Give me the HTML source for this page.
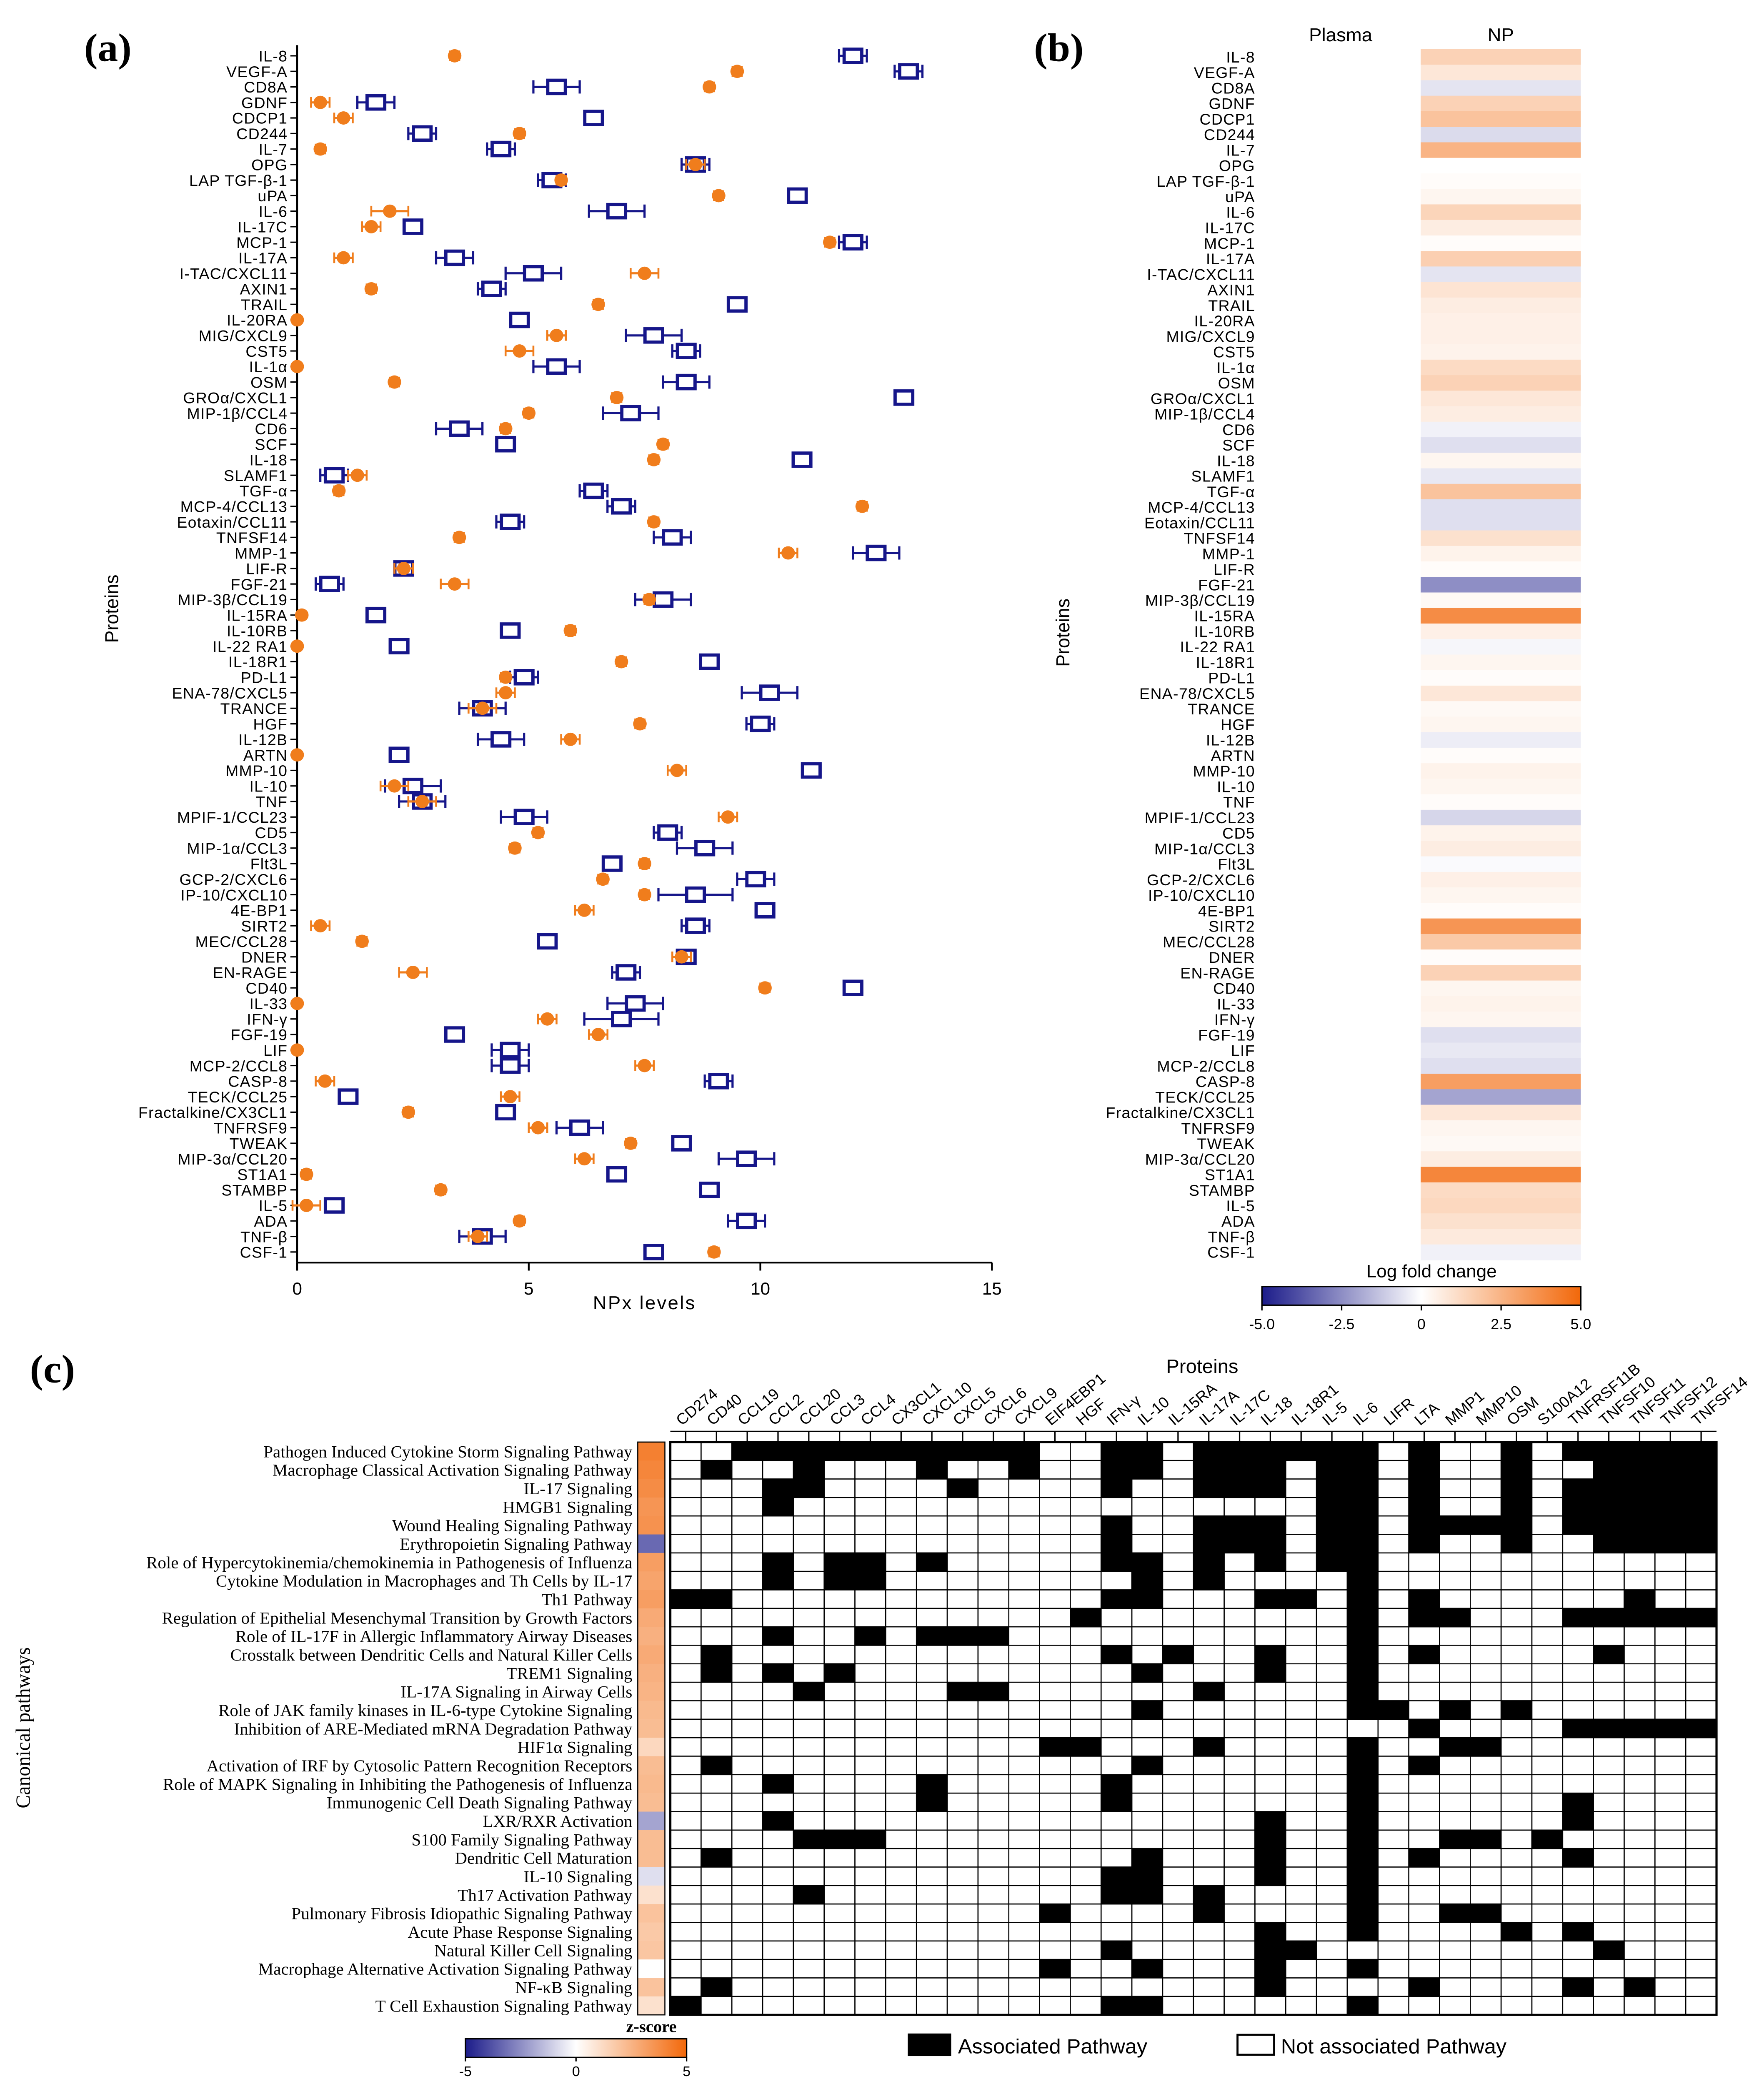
<!DOCTYPE html>
<html><head><meta charset="utf-8">
<style>
html,body{margin:0;padding:0;background:#fff;overflow:hidden;width:100%;height:100%;}
svg{display:block;position:absolute;left:0;top:0;width:100vw;height:100vh;}
text{font-family:"Liberation Sans",sans-serif;}
.serif{font-family:"Liberation Serif",serif;}
</style></head>
<body>
<svg id="fig" xmlns="http://www.w3.org/2000/svg" viewBox="0 0 1300 1568" preserveAspectRatio="none">
<rect x="0" y="0" width="1300" height="1568" fill="#fff"/>
<text class="serif" x="62" y="46" font-size="30" font-weight="bold">(a)</text>
<text class="serif" x="762" y="46" font-size="30" font-weight="bold">(b)</text>
<text class="serif" x="22" y="1040" font-size="30" font-weight="bold">(c)</text>
<g id="pa"></g>
<g id="pb"></g>
<g id="pc"></g>
</svg>
<script>
const proteins=["IL-8","VEGF-A","CD8A","GDNF","CDCP1","CD244","IL-7","OPG","LAP TGF-β-1","uPA","IL-6","IL-17C","MCP-1","IL-17A","I-TAC/CXCL11","AXIN1","TRAIL","IL-20RA","MIG/CXCL9","CST5","IL-1α","OSM","GROα/CXCL1","MIP-1β/CCL4","CD6","SCF","IL-18","SLAMF1","TGF-α","MCP-4/CCL13","Eotaxin/CCL11","TNFSF14","MMP-1","LIF-R","FGF-21","MIP-3β/CCL19","IL-15RA","IL-10RB","IL-22 RA1","IL-18R1","PD-L1","ENA-78/CXCL5","TRANCE","HGF","IL-12B","ARTN","MMP-10","IL-10","TNF","MPIF-1/CCL23","CD5","MIP-1α/CCL3","Flt3L","GCP-2/CXCL6","IP-10/CXCL10","4E-BP1","SIRT2","MEC/CCL28","DNER","EN-RAGE","CD40","IL-33","IFN-γ","FGF-19","LIF","MCP-2/CCL8","CASP-8","TECK/CCL25","Fractalkine/CX3CL1","TNFRSF9","TWEAK","MIP-3α/CCL20","ST1A1","STAMBP","IL-5","ADA","TNF-β","CSF-1"];
const plasmaNPx=[3.4,9.5,8.9,0.5,1.0,4.8,0.5,8.6,5.7,9.1,2.0,1.6,11.5,1.0,7.5,1.6,6.5,0,5.6,4.8,0,2.1,6.9,5.0,4.5,7.9,7.7,1.3,0.9,12.2,7.7,3.5,10.6,2.3,3.4,7.6,0.1,5.9,0,7.0,4.5,4.5,4.0,7.4,5.9,0,8.2,2.1,2.7,9.3,5.2,4.7,7.5,6.6,7.5,6.2,0.5,1.4,8.3,2.5,10.1,0,5.4,6.5,0,7.5,0.6,4.6,2.4,5.2,7.2,6.2,0.2,3.1,0.2,4.8,3.9,9.0];
const npNPx=[12.0,13.2,5.6,1.7,6.4,2.7,4.4,8.6,5.5,10.8,6.9,2.5,12.0,3.4,5.1,4.2,9.5,4.8,7.7,8.4,5.6,8.4,13.1,7.2,3.5,4.5,10.9,0.8,6.4,7.0,4.6,8.1,12.5,2.3,0.7,7.9,1.7,4.6,2.2,8.9,4.9,10.2,4.0,10.0,4.4,2.2,11.1,2.5,2.7,4.9,8.0,8.8,6.8,9.9,8.6,10.1,8.6,5.4,8.4,7.1,12.0,7.3,7.0,3.4,4.6,4.6,9.1,1.1,4.5,6.1,8.3,9.7,6.9,8.9,0.8,9.7,4.0,7.7];
const npErr=[0.3,0.3,0.5,0.4,0.2,0.3,0.3,0.3,0.3,0.2,0.6,0.2,0.3,0.4,0.6,0.3,0.2,0.2,0.6,0.3,0.5,0.5,0.2,0.6,0.5,0.2,0.2,0.3,0.3,0.3,0.3,0.4,0.5,0.2,0.3,0.6,0.2,0.2,0.2,0.2,0.3,0.6,0.5,0.3,0.5,0.2,0.2,0.6,0.5,0.5,0.3,0.6,0.2,0.4,0.8,0.2,0.3,0.2,0.2,0.3,0.2,0.6,0.8,0.2,0.4,0.4,0.3,0.2,0.2,0.5,0.2,0.6,0.2,0.2,0.2,0.4,0.5,0.2];
const plasmaErr=[0.1,0.1,0.1,0.2,0.2,0.1,0.1,0.2,0.1,0.1,0.4,0.2,0.1,0.2,0.3,0.1,0.1,0,0.2,0.3,0,0.1,0.1,0.1,0.1,0.1,0.1,0.2,0.1,0.1,0.1,0.1,0.2,0.2,0.3,0.1,0,0.1,0,0.1,0.1,0.2,0.3,0.1,0.2,0,0.2,0.3,0.3,0.2,0.1,0.1,0.1,0.1,0.1,0.2,0.2,0.1,0.2,0.3,0.1,0,0.2,0.2,0,0.2,0.2,0.2,0.1,0.2,0.1,0.2,0.1,0.1,0.3,0.1,0.2,0.1];
const xTicks=[0,5,10,15];
const logFC=[1.5,0.8,-0.6,1.5,2.0,-0.8,2.5,0,0.1,0.3,1.4,0.6,0.1,1.6,-0.6,0.9,0.6,0.5,0.5,0.4,1.2,1.5,0.8,0.6,-0.3,-0.7,0.3,-0.5,2.0,-0.7,-0.7,1.0,0.4,0.1,-2.5,0.2,3.8,0.5,-0.2,0.3,0.1,0.8,0.2,0.3,-0.4,0.1,0.4,0.3,0.1,-0.9,0.4,0.6,-0.1,0.5,0.3,0.1,3.5,1.8,0.1,1.5,0.3,0.4,0.3,-0.7,-0.5,-0.7,3.2,-2.0,0.8,0.3,0.2,0.6,4.0,1.2,1.3,1.0,0.7,-0.3];
const fcTicks=["-5.0","-2.5","0","2.5","5.0"];
const pathways=["Pathogen Induced Cytokine Storm Signaling Pathway","Macrophage Classical Activation Signaling Pathway","IL-17 Signaling","HMGB1 Signaling","Wound Healing Signaling Pathway","Erythropoietin Signaling Pathway","Role of Hypercytokinemia/chemokinemia in Pathogenesis of Influenza","Cytokine Modulation in Macrophages and Th Cells by IL-17","Th1 Pathway","Regulation of Epithelial Mesenchymal Transition by Growth Factors","Role of IL-17F in Allergic Inflammatory Airway Diseases","Crosstalk between Dendritic Cells and Natural Killer Cells","TREM1 Signaling","IL-17A Signaling in Airway Cells","Role of JAK family kinases in IL-6-type Cytokine Signaling","Inhibition of ARE-Mediated mRNA Degradation Pathway","HIF1α Signaling","Activation of IRF by Cytosolic Pattern Recognition Receptors","Role of MAPK Signaling in Inhibiting the Pathogenesis of Influenza","Immunogenic Cell Death Signaling Pathway","LXR/RXR Activation","S100 Family Signaling Pathway","Dendritic Cell Maturation","IL-10 Signaling","Th17 Activation Pathway","Pulmonary Fibrosis Idiopathic Signaling Pathway","Acute Phase Response Signaling","Natural Killer Cell Signaling","Macrophage Alternative Activation Signaling Pathway","NF-κB Signaling","T Cell Exhaustion Signaling Pathway"];
const genes=["CD274","CD40","CCL19","CCL2","CCL20","CCL3","CCL4","CX3CL1","CXCL10","CXCL5","CXCL6","CXCL9","EIF4EBP1","HGF","IFN-γ","IL-10","IL-15RA","IL-17A","IL-17C","IL-18","IL-18R1","IL-5","IL-6","LIFR","LTA","MMP1","MMP10","OSM","S100A12","TNFRSF11B","TNFSF10","TNFSF11","TNFSF12","TNFSF14"];
const zScores=[4.2,4.0,3.8,3.5,3.6,-3.3,3.2,3.0,3.2,2.8,2.6,2.8,2.6,2.5,2.3,2.2,1.3,2.2,2.3,2.2,-2.0,2.2,2.2,-0.7,1.0,2.0,1.8,1.9,0,2.0,1.0];
const assoc=[
[2,3,4,5,6,7,8,9,10,11,14,15,17,18,19,20,21,22,24,27,29,30,31,32,33],
[1,4,8,11,14,15,17,18,19,21,22,24,27,30,31,32,33],
[3,4,9,14,17,18,19,21,22,24,27,29,30,31,32,33],
[3,21,22,24,27,29,30,31,32,33],
[14,17,18,19,21,22,24,25,26,27,29,30,31,32,33],
[14,17,18,19,21,22,24,27,30,31,32,33],
[3,5,6,8,14,15,17,19,21,22],
[3,5,6,15,17,22],
[0,1,14,15,19,20,22,24,31],
[13,22,24,25,29,30,31,32,33],
[3,6,8,9,10,22],
[1,14,16,19,22,24,30],
[1,3,5,15,19,22],
[4,9,10,17,22],
[15,22,23,25,27],
[24,29,30,31,32,33],
[12,13,17,22,25,26],
[1,15,22,24],
[3,8,14,22],
[8,14,22,29],
[3,19,22,29],
[4,5,6,19,22,25,26,28],
[1,15,19,22,24,29],
[14,15,19,22],
[4,14,15,17,22],
[12,17,22,25,26],
[19,22,27,29],
[14,19,20,30],
[12,15,19,22],
[1,19,24,29,31],
[0,14,15,22]];

const NS="http://www.w3.org/2000/svg";
function mk(parent,tag,attrs,txt){const e=document.createElementNS(NS,tag);for(const k in attrs)e.setAttribute(k,attrs[k]);if(txt!==undefined)e.textContent=txt;parent.appendChild(e);return e;}
function lerp(a,b,t){return Math.round(a+(b-a)*t);}
function divColor(v,vmax){
  let t=Math.max(-1,Math.min(1,v/vmax));
  if(t>=0){return `rgb(${lerp(255,242,t)},${lerp(255,104,t)},${lerp(255,10,t)})`;}
  t=-t;return `rgb(${lerp(255,28,t)},${lerp(255,28,t)},${lerp(255,138,t)})`;
}
const ORANGE="#f07d1c", NAVY="#16168a";

/* ---------- Panel A ---------- */
const pa=document.getElementById('pa');
const ax0=219, ax1=731, ay0=42, ay1=942, xaxisY=950;
const xs=v=>ax0+(v-0)/(15-0)*(ax1-ax0);
const ys=i=>ay0+i*(ay1-ay0)/(proteins.length-1);
let el;
el=mk(pa,'line',{x1:ax0,y1:34,x2:ax0,y2:xaxisY,stroke:'#000','stroke-width':1.3});


el=mk(pa,'line',{x1:ax0,y1:xaxisY,x2:ax1,y2:xaxisY,stroke:'#000','stroke-width':1.3});


xTicks.forEach(t=>{
  mk(pa,'line',{x1:xs(t),y1:xaxisY,x2:xs(t),y2:xaxisY+6,stroke:'#000','stroke-width':1.3});
  el=mk(pa,'text',{x:xs(t),y:xaxisY+24,'font-size':13,'text-anchor':'middle'},String(t));
  
  
});
el=mk(pa,'text',{x:475,y:985,'font-size':14,'text-anchor':'middle','letter-spacing':1},'NPx levels');


el=mk(pa,'text',{x:0,y:0,'font-size':14,'text-anchor':'middle',transform:'translate(87,458) rotate(-90)'},'Proteins');


proteins.forEach((p,i)=>{
  const y=ys(i);
  mk(pa,'line',{x1:ax0-5,y1:y,x2:ax0,y2:y,stroke:'#000','stroke-width':1});
  el=mk(pa,'text',{x:ax0-7,y:y+4.3,'font-size':11.5,'text-anchor':'end','letter-spacing':0.4},p);
  
  
  const bx=xs(npNPx[i]), e=npErr[i]*(ax1-ax0)/15;
  const g=mk(pa,'g',{});
  
  
  mk(g,'line',{x1:bx-e,y1:y,x2:bx+e,y2:y,stroke:NAVY,'stroke-width':1.6});
  mk(g,'line',{x1:bx-e,y1:y-5,x2:bx-e,y2:y+5,stroke:NAVY,'stroke-width':1.6});
  mk(g,'line',{x1:bx+e,y1:y-5,x2:bx+e,y2:y+5,stroke:NAVY,'stroke-width':1.6});
  mk(g,'rect',{x:bx-6.5,y:y-5,width:13,height:10,fill:'#fff',stroke:NAVY,'stroke-width':2.4});
  const ox=xs(plasmaNPx[i]), oe=plasmaErr[i]*(ax1-ax0)/15;
  const g2=mk(pa,'g',{});
  
  
  if(oe>0){
    mk(g2,'line',{x1:ox-oe,y1:y,x2:ox+oe,y2:y,stroke:ORANGE,'stroke-width':1.6});
    mk(g2,'line',{x1:ox-oe,y1:y-4,x2:ox-oe,y2:y+4,stroke:ORANGE,'stroke-width':1.4});
    mk(g2,'line',{x1:ox+oe,y1:y-4,x2:ox+oe,y2:y+4,stroke:ORANGE,'stroke-width':1.4});
  }
  mk(g2,'circle',{cx:ox,cy:y,r:5,fill:ORANGE});
});

/* ---------- Panel B ---------- */
const pb=document.getElementById('pb');
const hx0=930, hx1=1165, hmid=1047, hy0=37, hy1=948;
const rh=(hy1-hy0)/proteins.length;
proteins.forEach((p,i)=>{
  const y=hy0+i*rh;
  el=mk(pb,'rect',{x:hx0,y:y,width:hmid-hx0,height:rh+0.3,fill:divColor(0,5)});
  
  
  el=mk(pb,'rect',{x:hmid,y:y,width:hx1-hmid,height:rh+0.3,fill:divColor(logFC[i],5)});
  
  
  el=mk(pb,'text',{x:hx0-5,y:y+rh/2+4.2,'font-size':11.5,'text-anchor':'end','letter-spacing':0.4},p);
  
  
});
el=mk(pb,'text',{x:988,y:31,'font-size':14,'text-anchor':'middle'},'Plasma');


el=mk(pb,'text',{x:1106,y:31,'font-size':14,'text-anchor':'middle'},'NP');


el=mk(pb,'text',{x:0,y:0,'font-size':14,'text-anchor':'middle',transform:'translate(788,476) rotate(-90)'},'Proteins');


el=mk(pb,'text',{x:1055,y:961,'font-size':13.5,'text-anchor':'middle'},'Log fold change');


const defs=mk(document.getElementById('fig'),'defs',{});
const lg=mk(defs,'linearGradient',{id:'divg',x1:0,y1:0,x2:1,y2:0});
for(let k=0;k<=10;k++){mk(lg,'stop',{offset:(k/10),'stop-color':divColor(-5+k,5)});}
el=mk(pb,'rect',{x:hx0,y:968,width:hx1-hx0,height:14,fill:'url(#divg)',stroke:'#000','stroke-width':1});


fcTicks.forEach((t,k)=>{
  const x=hx0+k*(hx1-hx0)/(fcTicks.length-1);
  mk(pb,'line',{x1:x,y1:982,x2:x,y2:986,stroke:'#000'});
  el=mk(pb,'text',{x:x,y:1000,'font-size':11,'text-anchor':'middle'},t);
  
  
});

/* ---------- Panel C ---------- */
const pc=document.getElementById('pc');
const mx0=494, mx1=1265, my0=1085, my1=1516;
const cw=(mx1-mx0)/genes.length, ch=(my1-my0)/pathways.length;
el=mk(pc,'text',{x:886,y:1033,'font-size':14.5,'text-anchor':'middle'},'Proteins');


el=mk(pc,'text',{x:0,y:0,'font-size':15,'text-anchor':'middle',class:'serif',transform:'translate(22,1300) rotate(-90)'},'Canonical pathways');


genes.forEach((g,j)=>{
  const x=mx0+(j+0.5)*cw;
  mk(pc,'line',{x1:x,y1:my0-8,x2:x,y2:my0,stroke:'#000','stroke-width':1});
  el=mk(pc,'text',{x:0,y:0,'font-size':11.5,transform:`translate(${x-3},${my0-12}) rotate(-40)`},g);
  
  
});
mk(pc,'line',{x1:mx0,y1:my0-8,x2:mx1,y2:my0-8,stroke:'#000','stroke-width':1});
pathways.forEach((p,i)=>{
  const y=my0+i*ch;
  el=mk(pc,'text',{x:466,y:y+ch/2+4.5,'font-size':12.6,'text-anchor':'end',class:'serif'},p);
  
  
  el=mk(pc,'rect',{x:470,y:y,width:20,height:ch+0.3,fill:divColor(zScores[i],5)});
  
  
  genes.forEach((g,j)=>{
    const on=assoc[i].includes(j);
    el=mk(pc,'rect',{x:mx0+j*cw,y:y,width:cw,height:ch,fill:on?'#000':'#fff',stroke:'#000','stroke-width':0.8});
    
    
  });
});
mk(pc,'rect',{x:470,y:my0,width:20,height:my1-my0,fill:'none',stroke:'#000','stroke-width':0.8});
mk(pc,'rect',{x:mx0,y:my0,width:mx1-mx0,height:my1-my0,fill:'none',stroke:'#000','stroke-width':1.6});
el=mk(pc,'text',{x:480,y:1529,'font-size':12.5,'text-anchor':'middle',class:'serif','font-weight':'bold'},'z-score');


el=mk(pc,'rect',{x:343,y:1534,width:163,height:14,fill:'url(#divg)',stroke:'#000','stroke-width':1});


["-5","0","5"].forEach((t,k)=>{
  const x=343+k*163/2;
  mk(pc,'line',{x1:x,y1:1548,x2:x,y2:1551,stroke:'#000'});
  el=mk(pc,'text',{x:x,y:1562,'font-size':10.5,'text-anchor':'middle'},t);
  
  
});
el=mk(pc,'rect',{x:669,y:1530,width:32,height:17,fill:'#000'});


el=mk(pc,'text',{x:706,y:1545,'font-size':15.5},'Associated Pathway');


el=mk(pc,'rect',{x:912,y:1531,width:27,height:15,fill:'#fff',stroke:'#000','stroke-width':1.5});


el=mk(pc,'text',{x:944,y:1545,'font-size':15.5},'Not associated Pathway');


</script>
</body></html>
